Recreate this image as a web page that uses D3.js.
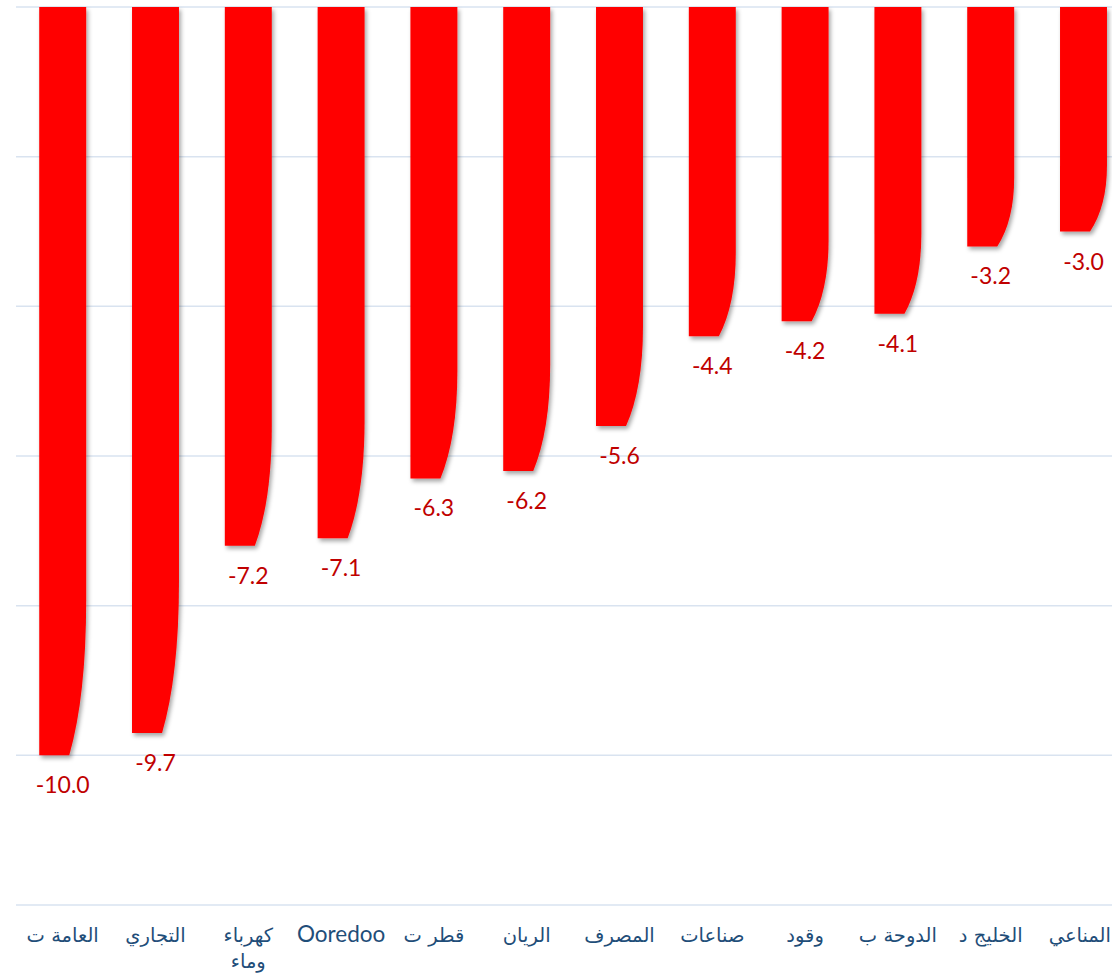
<!DOCTYPE html>
<html>
<head>
<meta charset="utf-8">
<script src="https://cdn.jsdelivr.net/npm/d3@7"></script>
<style>
  html, body { margin: 0; padding: 0; background: #ffffff; }
  svg { display: block; }
</style>
</head>
<body>
<svg id="chart" width="1112" height="976"></svg>
<script>
// ---- data ----
const categories = [
  "العامة ت",
  "التجاري",
  ["كهرباء", "وماء"],
  "Ooredoo",
  "قطر ت",
  "الريان",
  "المصرف",
  "صناعات",
  "وقود",
  "الدوحة ب",
  "الخليج د",
  "المناعي"
];
const values = [-10.0, -9.7, -7.2, -7.1, -6.3, -6.2, -5.6, -4.4, -4.2, -4.1, -3.2, -3.0];
const yTicks = [0, -2, -4, -6, -8, -10, -12];

// ---- layout ----
const W = 1112;
const svg = d3.select("#chart");
const x = d3.scaleBand().domain(d3.range(values.length)).range([16.3, 1129.9]).paddingInner(0.494).paddingOuter(0.247);
const y = d3.scaleLinear().domain([0, -12]).range([7, 905]);

const defs = svg.append("defs");
const f = defs.append("filter").attr("id", "shadow").attr("x", "-20%").attr("y", "-5%").attr("width", "140%").attr("height", "115%");
f.append("feDropShadow").attr("dx", 2).attr("dy", 3).attr("stdDeviation", 2)
  .attr("flood-color", "#000").attr("flood-opacity", 0.35);

// gridlines
svg.append("g").selectAll("line").data(yTicks).join("line")
  .attr("x1", 16).attr("x2", W)
  .attr("y1", d => y(d)).attr("y2", d => y(d))
  .attr("stroke", "#d9e3f0").attr("stroke-width", 1.5);

// bars with curved bottom-right corner
function barPath(i) {
  const x0 = x(i), x1 = x(i) + x.bandwidth();
  const top = y(0), bot = y(values[i]);
  const h = bot - top;
  const c = Math.min(h, 0.17 * h + 28);
  const inset = x.bandwidth() * 0.36;
  const ys = bot - c;
  return `M${x0},${top} L${x1},${top} L${x1},${ys} Q${x1},${ys + c * 0.62} ${x1 - inset},${bot} L${x0},${bot} Z`;
}
svg.append("g").attr("filter", "url(#shadow)")
  .selectAll("path").data(values).join("path")
  .attr("d", (d, i) => barPath(i))
  .attr("fill", "#ff0000");

// value labels
svg.append("g").selectAll("text").data(values).join("text")
  .attr("x", (d, i) => x(i) + x.bandwidth() / 2)
  .attr("y", d => y(d) + 38)
  .attr("text-anchor", "middle")
  .attr("font-family", "Lato, 'Open Sans', sans-serif")
  .attr("font-size", 23)
  .attr("fill", "#c00000")
  .text(d => d.toFixed(1));

// category labels
const isArabic = s => /[\u0600-\u06FF]/.test(s);
const cat = svg.append("g").selectAll("text").data(categories).join("text")
  .attr("y", y(-12) + 37)
  .attr("text-anchor", "middle")
  .attr("fill", "#1f4e79");
cat.each(function(d, i) {
  const t = d3.select(this);
  const lines = Array.isArray(d) ? d : [d];
  lines.forEach((l, k) => {
    t.append("tspan")
      .attr("x", x(i) + x.bandwidth() / 2)
      .attr("dy", k === 0 ? 0 : 26)
      .attr("font-family", isArabic(l) ? "'DejaVu Sans', sans-serif" : "Lato, sans-serif")
      .attr("font-size", isArabic(l) ? 19.5 : 22.5)
      .text(l);
  });
  // keep the label inside the canvas
  const bb = this.getBBox();
  const over = bb.x + bb.width - (W - 1);
  if (over > 0) t.attr("transform", `translate(${-over},0)`);
});
</script>
</body>
</html>
